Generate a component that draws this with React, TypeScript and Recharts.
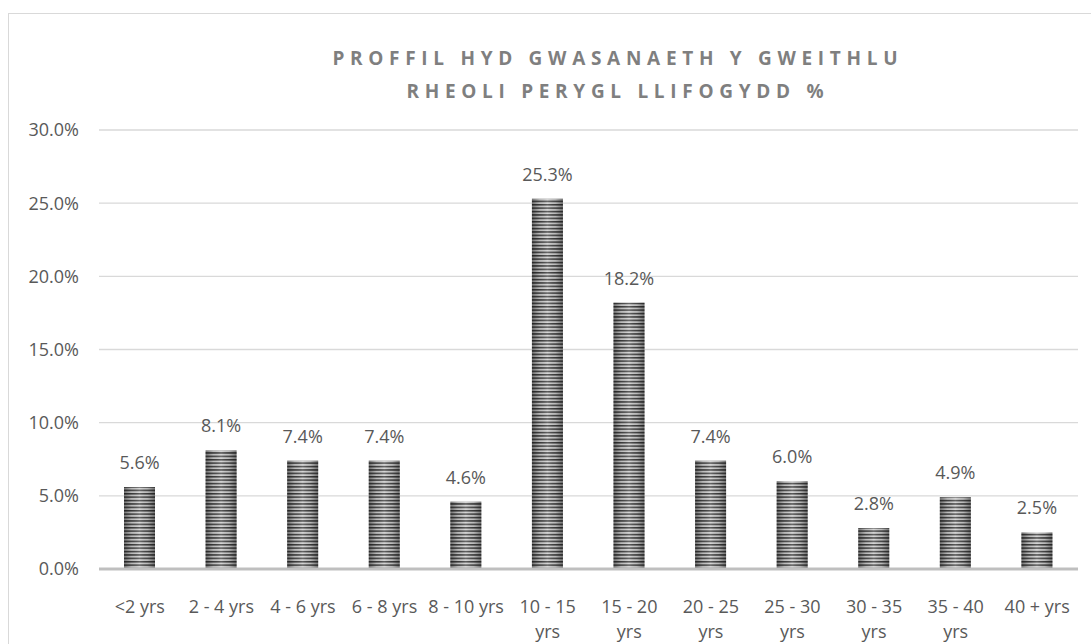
import React from "react";
import {
  Bar,
  BarChart,
  CartesianGrid,
  LabelList,
  XAxis,
  YAxis,
} from "recharts";

// Proffil hyd gwasanaeth (%)
const categories = [
  "<2 yrs",
  "2 - 4 yrs",
  "4 - 6 yrs",
  "6 - 8 yrs",
  "8 - 10 yrs",
  "10 - 15 yrs",
  "15 - 20 yrs",
  "20 - 25 yrs",
  "25 - 30 yrs",
  "30 - 35 yrs",
  "35 - 40 yrs",
  "40 + yrs",
];
const shares = [5.6, 8.1, 7.4, 7.4, 4.6, 25.3, 18.2, 7.4, 6.0, 2.8, 4.9, 2.5];
const yTicks = [0, 5, 10, 15, 20, 25, 30];
const titleLines = [
  "PROFFIL HYD GWASANAETH Y GWEITHLU",
  "RHEOLI PERYGL LLIFOGYDD %",
];

const data = categories.map((name, i) => ({ name, value: shares[i] }));

const FONT = '"Open Sans", "DejaVu Sans", sans-serif';
const TEXT = "#595959";
const FS = 18;

// bar gyda streipiau llorweddol + cysgod ar yr ymylon
function StripedBar(props: any) {
  const { x, y, width, height } = props;
  if (!height || height <= 0) return null;
  return (
    <g>
      <rect x={x} y={y} width={width} height={height} fill="url(#stripes)" />
      <rect x={x} y={y} width={width} height={height} fill="url(#edgeShade)" />
    </g>
  );
}

// label echel x: torri'r testun hir yn ddwy linell
function XTick(props: any) {
  const { x, y, payload } = props;
  const label: string = payload.value;
  let lines = [label];
  if (label.length > 10) {
    const cut = label.lastIndexOf(" ");
    lines = [label.slice(0, cut), label.slice(cut + 1)];
  }
  return (
    <text
      x={x}
      y={y}
      textAnchor="middle"
      fill={TEXT}
      fontSize={FS}
      fontFamily={FONT}
    >
      {lines.map((l, i) => (
        <tspan key={i} x={x} dy={i === 0 ? 36 : 25}>
          {l}
        </tspan>
      ))}
    </text>
  );
}

export default function App() {
  return (
    <div
      style={{
        position: "absolute",
        left: 0,
        top: 0,
        width: 1091,
        height: 644,
        overflow: "hidden",
        background: "#fff",
      }}
    >
      <svg width={0} height={0} style={{ position: "absolute" }}>
        <defs>
          <pattern
            id="stripes"
            patternUnits="userSpaceOnUse"
            width={8}
            height={3.4}
          >
            <rect x={0} y={0} width={8} height={3.4} fill="#cfcfcf" />
            <rect x={0} y={0} width={8} height={1.5} fill="#3c3c3c" />
          </pattern>
          <linearGradient id="edgeShade" x1="0" y1="0" x2="1" y2="0">
            <stop offset="0%" stopColor="#000" stopOpacity={0.45} />
            <stop offset="25%" stopColor="#000" stopOpacity={0.1} />
            <stop offset="50%" stopColor="#fff" stopOpacity={0.15} />
            <stop offset="75%" stopColor="#000" stopOpacity={0.1} />
            <stop offset="100%" stopColor="#000" stopOpacity={0.45} />
          </linearGradient>
        </defs>
      </svg>

      {/* ffin y siart */}
      <div
        style={{
          position: "absolute",
          left: 8,
          top: 13,
          width: 1200,
          height: 700,
          border: "1.5px solid #d9d9d9",
        }}
      />

      {titleLines.map((t, i) => (
        <div
          key={t}
          style={{
            position: "absolute",
            left: 615 - 400,
            width: 800,
            top: i === 0 ? 45 : 78,
            textAlign: "center",
            fontFamily: FONT,
            fontWeight: 700,
            fontSize: 19,
            letterSpacing: 5.7,
            paddingLeft: 5.7,
            boxSizing: "border-box",
            color: "#7f7f7f",
            lineHeight: "26px",
            whiteSpace: "nowrap",
          }}
        >
          {t}
        </div>
      ))}

      <div style={{ position: "absolute", left: 0, top: 0 }}>
        <BarChart
          width={1091}
          height={644}
          data={data}
          margin={{ top: 130, right: 13, bottom: 0, left: 0 }}
        >
          <CartesianGrid vertical={false} stroke="#d9d9d9" strokeWidth={1.3} />
          <XAxis
            dataKey="name"
            axisLine={{ stroke: "#bfbfbf", strokeWidth: 3 }}
            tickLine={false}
            interval={0}
            tick={<XTick />}
            height={75}
          />
          <YAxis
            width={99}
            domain={[0, 30]}
            ticks={yTicks}
            axisLine={false}
            tickLine={false}
            tickMargin={14}
            tick={{ fill: TEXT, fontSize: FS, fontFamily: FONT }}
            tickFormatter={(v: number) => `${v.toFixed(1)}%`}
          />
          <Bar
            dataKey="value"
            barSize={31}
            shape={<StripedBar />}
            isAnimationActive={false}
          >
            <LabelList
              dataKey="value"
              position="top"
              offset={18}
              fill={TEXT}
              fontSize={FS}
              fontFamily={FONT}
              formatter={(v: any) => `${Number(v).toFixed(1)}%`}
            />
          </Bar>
        </BarChart>
      </div>
    </div>
  );
}
